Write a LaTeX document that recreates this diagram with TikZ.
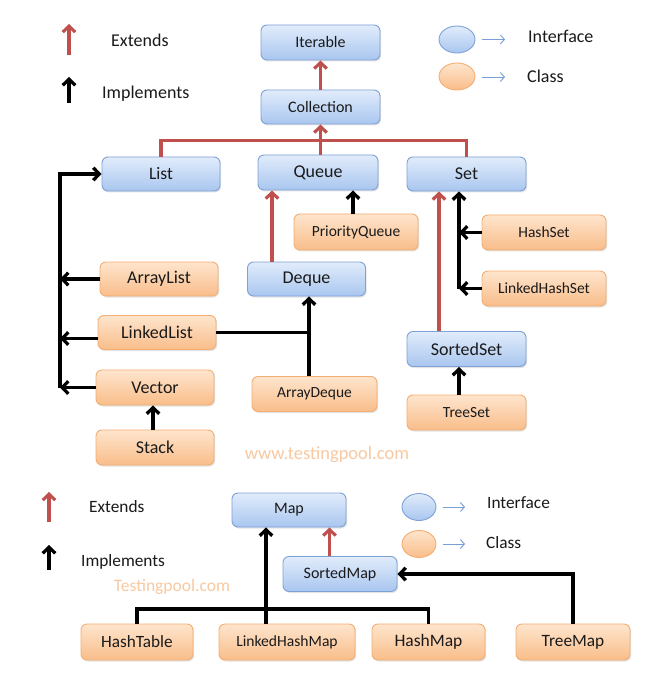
\documentclass[tikz,border=0pt]{standalone}
\usepackage{fontspec}
\setmainfont{Carlito}
\usetikzlibrary{arrows.meta,shadows}
\definecolor{btop}{HTML}{E1ECFB}
\definecolor{bbot}{HTML}{A9C6EF}
\definecolor{bdraw}{HTML}{7EA1D6}
\definecolor{otop}{HTML}{FEE5CD}
\definecolor{obot}{HTML}{F9BD8A}
\definecolor{odraw}{HTML}{F3AE72}
\definecolor{redc}{HTML}{C0504D}
\definecolor{txtc}{HTML}{1A1A1A}
\definecolor{wmark}{HTML}{F7C9A2}
\definecolor{legarrow}{HTML}{7A9FD6}
\newcommand\fsz[1]{\fontsize{#1}{#1}\selectfont}
\begin{document}
\begin{tikzpicture}[x=1pt,y=-1pt,
  box/.style={rounded corners=6pt, line width=0.9pt, inner sep=0pt, text=txtc,
    drop shadow={opacity=0.22, shadow xshift=1.2pt, shadow yshift=-1.5pt}},
  iface/.style={box, draw=bdraw, top color=btop, bottom color=bbot},
  cls/.style={box, draw=odraw, top color=otop, bottom color=obot},
  tip/.style={-{Straight Barb[length=6pt,width=12.5pt]}},
  ext/.style={draw=redc, line width=3.1pt, tip},
  extline/.style={draw=redc, line width=3.1pt},
  imp/.style={draw=black, line width=3.3pt, tip},
  impline/.style={draw=black, line width=3.3pt},
  legtxt/.style={anchor=west, text=txtc, inner sep=0pt},
  thinarrow/.style={draw=legarrow, line width=0.9pt, -{Straight Barb[length=4pt,width=9pt]}},
  wm/.style={text=wmark, inner sep=0pt}
]
\fill[white] (0,0) rectangle (656,684);
\useasboundingbox (0,0) rectangle (656,684);

% ---------- top part ----------
\node[iface, minimum width=119pt, minimum height=35pt, font=\fsz{16}] (iter) at (320.5,42.5) {Iterable};
\node[iface, minimum width=119pt, minimum height=34pt, font=\fsz{16}] (coll) at (320.5,107) {Collection};
\node[iface, minimum width=118pt, minimum height=34pt, font=\fsz{17.5}] (list) at (161,174) {List};
\node[iface, minimum width=120pt, minimum height=35pt, font=\fsz{18}] (queue) at (318,172.5) {Queue};
\node[iface, minimum width=119pt, minimum height=34pt, font=\fsz{18}] (set) at (466.5,174) {Set};
\node[cls, minimum width=124pt, minimum height=36pt, font=\fsz{15.5}] (pq) at (356,232) {PriorityQueue};
\node[cls, minimum width=124pt, minimum height=35pt, font=\fsz{15.5}] (hs) at (544,232.5) {HashSet};
\node[cls, minimum width=124pt, minimum height=35pt, font=\fsz{15.5}] (lhs) at (544,288.5) {LinkedHashSet};
\node[cls, minimum width=118pt, minimum height=34pt, font=\fsz{18}] (alist) at (159,279) {ArrayList};
\node[iface, minimum width=118pt, minimum height=34pt, font=\fsz{18}] (deque) at (306.5,279) {Deque};
\node[cls, minimum width=118pt, minimum height=34pt, font=\fsz{18}] (ll) at (157,332.5) {LinkedList};
\node[cls, minimum width=118pt, minimum height=35pt, font=\fsz{18}] (vec) at (155,387.5) {Vector};
\node[cls, minimum width=118pt, minimum height=35pt, font=\fsz{18}] (stack) at (155,447.5) {Stack};
\node[cls, minimum width=125pt, minimum height=35pt, font=\fsz{15.5}] (adq) at (314.5,394) {ArrayDeque};
\node[iface, minimum width=119pt, minimum height=35pt, font=\fsz{18}] (sset) at (466.5,349) {SortedSet};
\node[cls, minimum width=119pt, minimum height=35pt, font=\fsz{15.5}] (tset) at (466.5,412.5) {TreeSet};

\node[wm, font=\fsz{18.5}] (wm1) at (327,455) {www.testingpool.com};

% legend top
\draw[ext] (69,55) -- (69,24);
\node[legtxt, font=\fsz{18}] (ext1) at (111,40) {Extends};
\draw[imp] (69,103) -- (69,77);
\node[legtxt, font=\fsz{18}] (imp1) at (102,94) {Implements};
\shade[top color=btop, bottom color=bbot, draw=bdraw, line width=0.9pt] (457,39.5) ellipse [x radius=18pt, y radius=13.5pt];
\draw[thinarrow] (482,39.5) -- (505,39.5);
\node[legtxt, font=\fsz{18}] (int1) at (528,36) {Interface};
\shade[top color=otop, bottom color=obot, draw=odraw, line width=0.9pt] (457,76.5) ellipse [x radius=18pt, y radius=13.5pt];
\draw[thinarrow] (482,77) -- (505,77);
\node[legtxt, font=\fsz{18}] (cls1) at (527,76) {Class};

% connectors top
\coordinate (st) at (459,288.5);
\coordinate (lt) at (60,387.5);
\coordinate (dt) at (309,332.5);

\draw[ext] (coll.north) -- (iter.south);
\draw[extline] (list.north) -- ++(0,-16) -| (set.north);
\draw[ext] (coll.south |- queue.north) -- (coll.south);
\draw[ext] ([xshift=-34.5pt]deque.north) -- ([xshift=-34.5pt]deque.north |- queue.south);
\draw[ext] ([xshift=-27.5pt]sset.north) -- ([xshift=-27.5pt]sset.north |- set.south);
\draw[imp] ([xshift=-3pt]pq.north) -- ([xshift=-3pt]pq.north |- queue.south);
\draw[imp] (lhs.west) -- (st);
\draw[imp] (hs.west) -- (hs.west -| st);
\draw[imp] (st) -- (st |- set.south);
\draw[imp] (tset.north -| st) -- (sset.south -| st);
\draw[imp] (lt) |- (list.west);
\draw[imp] (alist.west) -- (alist.west -| lt);
\draw[imp] ([yshift=-6pt]ll.west) -- ([yshift=-6pt]ll.west -| lt);
\draw[imp] (vec.west) -- (lt);
\draw[impline] (ll.east) -- (dt);
\draw[imp] (adq.north -| dt) -- (deque.south -| dt);
\draw[imp] ([xshift=-2pt]stack.north) -- ([xshift=-2pt]vec.south);

% ---------- bottom part ----------
\node[iface, minimum width=114pt, minimum height=34pt, font=\fsz{16}] (map) at (289,510) {Map};
\node[iface, minimum width=114pt, minimum height=35pt, font=\fsz{16}] (smap) at (340,574) {SortedMap};
\node[cls, minimum width=112pt, minimum height=36pt, font=\fsz{17.2}] (htab) at (137,642) {HashTable};
\node[cls, minimum width=136pt, minimum height=36pt, font=\fsz{15.6}] (lhm) at (287,642) {LinkedHashMap};
\node[cls, minimum width=113pt, minimum height=36pt, font=\fsz{17.5}] (hmap) at (428.5,642) {HashMap};
\node[cls, minimum width=114pt, minimum height=36pt, font=\fsz{17.3}] (tmap) at (573,642) {TreeMap};

\node[wm, font=\fsz{17.5}] (wm2) at (172,587) {Testingpool.com};

% legend bottom
\draw[ext] (49,522) -- (49,492);
\node[legtxt, font=\fsz{17.3}] (ext2) at (89,507) {Extends};
\draw[imp] (49,570) -- (49,545);
\node[legtxt, font=\fsz{17.3}] (imp2) at (81,562) {Implements};
\shade[top color=btop, bottom color=bbot, draw=bdraw, line width=0.9pt] (419,507) ellipse [x radius=17pt, y radius=13.5pt];
\draw[thinarrow] (443,507) -- (465,507);
\node[legtxt, font=\fsz{17.3}] (int2) at (487,503) {Interface};
\shade[top color=otop, bottom color=obot, draw=odraw, line width=0.9pt] (419,544) ellipse [x radius=17pt, y radius=13.5pt];
\draw[thinarrow] (443,544) -- (465,544);
\node[legtxt, font=\fsz{17.3}] (cls2) at (486,543) {Class};

% connectors bottom
\coordinate (mt) at (266,609);
\draw[ext] ([xshift=-10.5pt]smap.north) -- ([xshift=-10.5pt]smap.north |- map.south);
\draw[imp] (lhm.north -| mt) -- (map.south -| mt);
\draw[impline] (htab.north) |- (hmap.north |- mt) -- (hmap.north);
\draw[imp] (tmap.north) |- (smap.east);
\end{tikzpicture}
\end{document}
